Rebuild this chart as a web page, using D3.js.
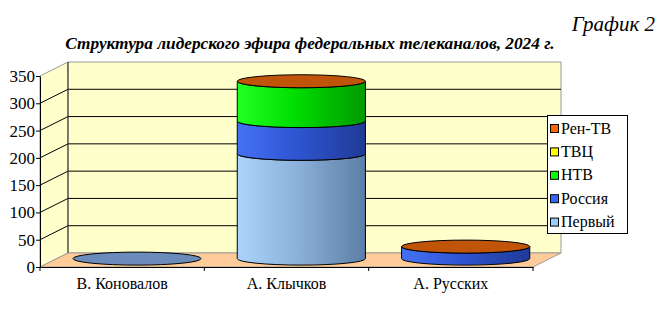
<!DOCTYPE html>
<html>
<head>
<meta charset="utf-8">
<script src="https://cdn.jsdelivr.net/npm/d3@7"></script>
<style>
  html, body { margin: 0; padding: 0; background: #fff; }
</style>
</head>
<body>
<div id="chart"></div>
<script>
// --- DATA ---
const categories = ["В. Коновалов", "А. Клычков", "А. Русских"];
const seriesNames = ["Первый", "Россия", "НТВ", "ТВЦ", "Рен-ТВ"];
const perviy = [0, 192, 0];
const rossiya = [null, 60, 22];
const ntv = [null, 73, 0];
const tvc = [null, 0, 0];
const renTv = [null, 0, 0];
const yTicks = [0, 50, 100, 150, 200, 250, 300, 350];

const seriesValues = [perviy, rossiya, ntv, tvc, renTv];
const swatch = ["#99ccff", "#3366ff", "#00ff00", "#ffff00", "#ff6600"];
const sideGrad = [
  ["#acd4fb", "#8db2dc", "#5d7ea6"],
  ["#4472f4", "#2f55d2", "#1f3a96"],
  ["#22ff22", "#00dd00", "#009a00"],
  ["#ffff55", "#e6e600", "#aaaa00"],
  ["#ff7a2a", "#dd5a00", "#a04000"]
];
const topColor = ["#6b8cba", "#2d50cc", "#00cc00", "#dddd00", "#c0550a"];
const SERIF = '"Times New Roman"';

// --- SETUP ---
const W = 661, H = 310;
const svg = d3.select("#chart").append("svg")
    .attr("width", W)
    .attr("height", H)
    .attr("font-family", "Times New Roman")
    .style("font-family", SERIF);

// titles first
svg.append("text")
    .attr("x", 655).attr("y", 31)
    .attr("text-anchor", "end")
    .style("font-family", SERIF)
    .style("font-size", "21px")
    .style("font-style", "italic")
    .text("График 2");
svg.append("text")
    .attr("x", 310).attr("y", 49)
    .attr("text-anchor", "middle")
    .style("font-family", SERIF)
    .style("font-size", "17.3px")
    .style("font-style", "italic")
    .style("font-weight", "bold")
    .text("Структура лидерского эфира федеральных телеканалов, 2024 г.");

const defs = svg.append("defs");
sideGrad.forEach((g, i) => {
    const lg = defs.append("linearGradient")
        .attr("id", "grad" + i)
        .attr("x1", "0%").attr("x2", "100%").attr("y1", "0%").attr("y2", "0%");
    lg.append("stop").attr("offset", "0%").attr("stop-color", g[0]);
    lg.append("stop").attr("offset", "45%").attr("stop-color", g[1]);
    lg.append("stop").attr("offset", "100%").attr("stop-color", g[2]);
});

// scales (front face)
const x = d3.scaleBand().domain(categories).range([40, 533]).padding(0);
const y = d3.scaleLinear().domain([0, 350]).range([267, 76]);
const depthX = 28, depthY = -14;

const x0 = x.range()[0], x1 = x.range()[1];
const yBase = y(0), yTop = y(350);

// --- WALLS ---
// side wall
svg.append("path")
    .attr("d", `M${x0},${yBase}L${x0},${yTop}L${x0 + depthX},${yTop + depthY}L${x0 + depthX},${yBase + depthY}Z`)
    .attr("fill", "#ffffcc")
    .attr("stroke", "#999")
    .attr("stroke-width", 1);
// back wall
svg.append("path")
    .attr("d", `M${x0 + depthX},${yTop + depthY}L${x1 + depthX},${yTop + depthY}L${x1 + depthX},${yBase + depthY}L${x0 + depthX},${yBase + depthY}Z`)
    .attr("fill", "#ffffcc")
    .attr("stroke", "#999")
    .attr("stroke-width", 1);

// gridlines
const grid = svg.append("g");
yTicks.filter(t => t > 0 && t < 350).forEach(t => {
    grid.append("line")
        .attr("x1", x0).attr("y1", y(t))
        .attr("x2", x0 + depthX).attr("y2", y(t) + depthY)
        .attr("stroke", "#000").attr("stroke-width", 1);
    grid.append("line")
        .attr("x1", x0 + depthX).attr("y1", y(t) + depthY)
        .attr("x2", x1 + depthX).attr("y2", y(t) + depthY)
        .attr("stroke", "#000").attr("stroke-width", 1);
});
svg.append("line")
    .attr("x1", x0 + depthX).attr("y1", yTop + depthY)
    .attr("x2", x0 + depthX).attr("y2", yBase + depthY)
    .attr("stroke", "#333");

// floor
svg.append("path")
    .attr("d", `M${x0},${yBase}L${x1},${yBase}L${x1 + depthX},${yBase + depthY}L${x0 + depthX},${yBase + depthY}Z`)
    .attr("fill", "#ffcc99")
    .attr("stroke", "#999")
    .attr("stroke-width", 1);

// --- CYLINDERS ---
const depthFrac = 0.6;
const rx = x.bandwidth() * 0.39;
const ry = 6.5;

categories.forEach((cat, ci) => {
    const cx = x(cat) + x.bandwidth() / 2 + depthX * 0.53;
    const yy = v => y(v) + depthY * depthFrac;
    const g = svg.append("g");
    let cum = 0, lastIdx = 0;
    seriesValues.forEach((vals, si) => {
        const v = vals[ci];
        if (v === null) return;
        lastIdx = si;
        if (v <= 0) return;
        const a = yy(cum), b = yy(cum + v);
        g.append("path")
            .attr("d", `M${cx - rx},${b}L${cx - rx},${a}A${rx},${ry} 0 0 0 ${cx + rx},${a}L${cx + rx},${b}A${rx},${ry} 0 0 1 ${cx - rx},${b}Z`)
            .attr("fill", `url(#grad${si})`)
            .attr("stroke", "#000")
            .attr("stroke-width", 1);
        cum += v;
    });
    // top face takes the colour of the last series present
    g.append("ellipse")
        .attr("cx", cx).attr("cy", yy(cum))
        .attr("rx", rx).attr("ry", ry)
        .attr("fill", topColor[lastIdx])
        .attr("stroke", "#000")
        .attr("stroke-width", 1);
});

// --- AXES ---
const yAxis = svg.append("g")
    .attr("transform", `translate(${x0},0)`)
    .call(d3.axisLeft(y).tickValues(yTicks).tickSize(4).tickSizeOuter(0));
yAxis.attr("font-family", "Times New Roman").attr("font-size", 17);
yAxis.select(".domain").attr("stroke", "#000");
yAxis.selectAll("text")
    .style("font-family", SERIF)
    .style("font-size", "17px")
    .attr("fill", "#000")
    .attr("x", -5);

const xAxis = svg.append("g")
    .attr("transform", `translate(0,${yBase})`)
    .call(d3.axisBottom(x).tickSize(0).tickSizeOuter(0));
xAxis.attr("font-family", "Times New Roman").attr("font-size", 16);
xAxis.select(".domain").attr("stroke", "#000");
xAxis.selectAll("text")
    .style("font-family", SERIF)
    .style("font-size", "16px")
    .attr("fill", "#000")
    .attr("y", 11);
// category dividers
xAxis.selectAll(".divider")
    .data([x0].concat(categories.map(c => x(c) + x.bandwidth())))
    .enter().append("line")
    .attr("x1", d => d).attr("x2", d => d)
    .attr("y1", 0).attr("y2", 4)
    .attr("stroke", "#000");

// --- LEGEND ---
const legend = svg.append("g");
legend.append("rect")
    .attr("x", 547.5).attr("y", 115.5)
    .attr("width", 80).attr("height", 118)
    .attr("fill", "#fff")
    .attr("stroke", "#000");
const legendOrder = seriesNames.map((n, i) => i).reverse();
legendOrder.forEach((si, k) => {
    const ly = 128.5 + k * 23.4;
    legend.append("rect")
        .attr("x", 550.5).attr("y", ly - 4)
        .attr("width", 8).attr("height", 8)
        .attr("fill", swatch[si])
        .attr("stroke", "#000");
    legend.append("text")
        .attr("x", 561).attr("y", ly + 5)
        .style("font-family", SERIF)
        .style("font-size", "16px")
        .text(seriesNames[si]);
});
</script>
</body>
</html>
